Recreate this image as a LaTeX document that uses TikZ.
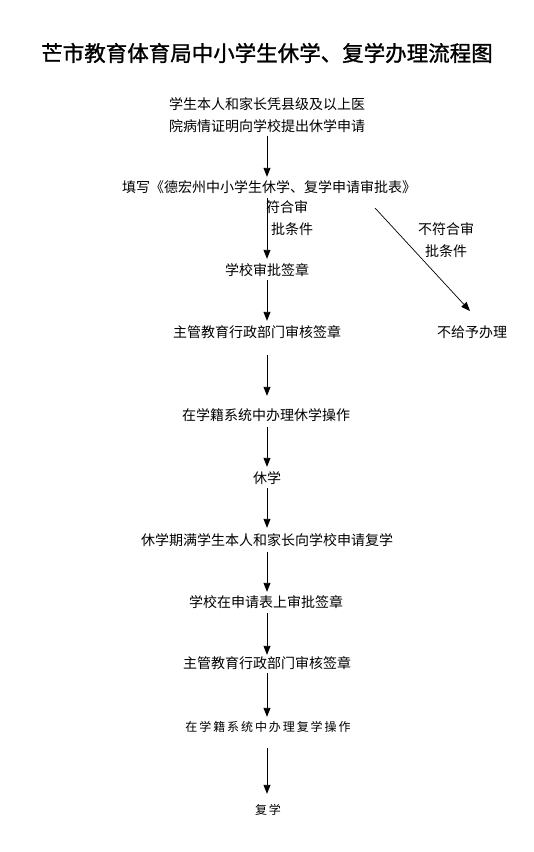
\documentclass[tikz,border=0pt]{standalone}
\usepackage{fontspec}
\setmainfont{Noto Sans CJK SC}
\usetikzlibrary{arrows.meta}
\begin{document}
\begin{tikzpicture}[x=1pt,y=-1pt,
  txt/.style={inner sep=0pt,font=\fontsize{14}{22}\selectfont,text height=11pt,text depth=3pt},
  small/.style={inner sep=0pt,font=\fontsize{12}{14}\selectfont\addfontfeature{LetterSpace=16},text height=9.5pt,text depth=2.5pt},
  arr/.style={-{Triangle[length=9pt,width=7pt]},line width=0.9pt}]
\useasboundingbox[fill=white] (0,0) rectangle (534,852);
\coordinate (ax) at (267,0);
\node[inner sep=0pt,font=\fontsize{21.5}{24}\selectfont\addfontfeature{FakeBold=1.2}] (title) at (267,53) {芒市教育体育局中小学生休学、复学办理流程图};
\node[txt,align=center] (n1) at (267,127) {学生本人和家长凭县级及以上医\\院病情证明向学校提出休学申请};
\node[txt] (n2) at (269,188) {填写《德宏州中小学生休学、复学申请审批表》};
\node[txt,align=left,anchor=north west,text height=,text depth=] (l1) at (266,200) {符合审\\\hspace{5pt}批条件};
\node[txt,align=center,text height=,text depth=] (l2) at (446,240) {不符合审\\批条件};
\node[txt] (n3) at (267,271) {学校审批签章};
\node[txt] (n4) at (257,333) {主管教育行政部门审核签章};
\node[txt] (no) at (472,333) {不给予办理};
\node[txt] (n5) at (266,416) {在学籍系统中办理休学操作};
\node[txt] (n6) at (267,479) {休学};
\node[txt] (n7) at (267,541) {休学期满学生本人和家长向学校申请复学};
\node[txt] (n8) at (266,603) {学校在申请表上审批签章};
\node[txt] (n9) at (267,664) {主管教育行政部门审核签章};
\node[small] (n10) at (268,728) {在学籍系统中办理复学操作};
\node[small] (n11) at (268,811) {复学};
\coordinate (d1) at (375,208);
\coordinate (d2) at (470,311);
\draw[arr,shorten <=2pt,shorten >=4pt] (n1.south -| ax) -- (n2.north -| ax);
\draw[arr,shorten <=3pt,shorten >=5pt] (n2.south -| ax) -- (n3.north -| ax);
\draw[arr,shorten <=2pt,shorten >=5pt] (n3.south -| ax) -- (n4.north -| ax);
\draw[arr,shorten <=15pt,shorten >=13pt] (n4.south -| ax) -- (n5.north -| ax);
\draw[arr,shorten <=4pt,shorten >=5pt] (n5.south -| ax) -- (n6.north -| ax);
\draw[arr,shorten <=2pt,shorten >=6pt] (n6.south -| ax) -- (n7.north -| ax);
\draw[arr,shorten <=4pt,shorten >=4pt] (n7.south -| ax) -- (n8.north -| ax);
\draw[arr,shorten <=3pt,shorten >=2pt] (n8.south -| ax) -- (n9.north -| ax);
\draw[arr,shorten <=2pt,shorten >=5pt] (n9.south -| ax) -- (n10.north -| ax);
\draw[arr,shorten <=14pt,shorten >=11pt] (n10.south -| ax) -- (n11.north -| ax);
\draw[arr,line width=0.7pt] (d1) -- (d2);
\end{tikzpicture}
\end{document}
